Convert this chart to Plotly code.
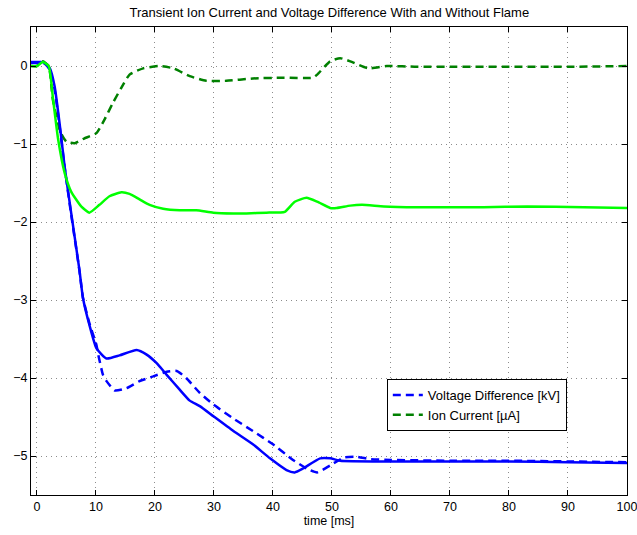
import plotly.graph_objects as go

# Voltage difference without flame (dashed blue)
v_nf_x = [-1, 0, 1, 1.5, 2.2, 3.0, 3.9, 4.7, 5.8, 7.2, 7.8, 8.9, 10.1, 10.4, 11.2, 11.8, 13.2, 15.2, 17.4, 19.7, 22.0, 23.7, 25.3, 27.6, 29.9, 33.3, 36.6, 40.0, 43.4, 45.7, 47.5, 49.7, 52.0, 54.2, 56.5, 60, 70, 80, 90, 100]
v_nf_y = [0.04, 0.04, 0.04, 0.02, -0.05, -0.30, -0.80, -1.30, -1.90, -2.62, -2.97, -3.30, -3.58, -3.70, -3.96, -4.04, -4.16, -4.13, -4.04, -3.98, -3.92, -3.91, -4.00, -4.19, -4.34, -4.52, -4.68, -4.85, -5.05, -5.16, -5.21, -5.12, -5.02, -5.01, -5.04, -5.05, -5.06, -5.06, -5.07, -5.08]

# Ion current without flame (dashed dark green)
i_nf_x = [-1, 0, 1.0, 2.0, 2.7, 4.0, 5.0, 6.4, 8.0, 10.1, 11.5, 12.9, 14.3, 15.7, 18.0, 20.8, 23.1, 25.9, 28.7, 32.1, 36.6, 41.7, 46.8, 47.5, 49.7, 51.4, 53.1, 56.2, 59.3, 64.4, 70, 80, 90, 100]
i_nf_y = [0.0, 0.0, 0.06, 0.0, -0.43, -0.85, -0.97, -0.99, -0.93, -0.86, -0.68, -0.47, -0.28, -0.11, -0.03, 0.0, -0.03, -0.13, -0.19, -0.19, -0.16, -0.15, -0.15, -0.11, 0.06, 0.10, 0.06, -0.03, 0.0, -0.01, -0.01, -0.01, -0.01, 0.0]

# Voltage difference with flame (solid blue)
v_f_x = [-1, 0, 1, 1.5, 2.2, 3.0, 3.9, 4.7, 5.8, 7.2, 7.8, 8.9, 10.1, 11.8, 14.0, 16.9, 18.6, 20.3, 22.0, 24.2, 25.9, 27.6, 29.9, 33.3, 36.6, 39.5, 42.3, 43.7, 45.1, 48.0, 49.7, 51.4, 59.3, 70, 80, 90, 100]
v_f_y = [0.05, 0.05, 0.05, 0.03, -0.03, -0.26, -0.77, -1.29, -1.88, -2.61, -2.97, -3.32, -3.62, -3.75, -3.71, -3.64, -3.70, -3.81, -3.96, -4.15, -4.29, -4.36, -4.49, -4.68, -4.85, -5.03, -5.18, -5.21, -5.16, -5.03, -5.03, -5.06, -5.07, -5.07, -5.07, -5.08, -5.09]

# Ion current with flame (solid bright green)
i_f_x = [-1, 0, 1.0, 2.0, 2.7, 3.6, 4.7, 5.8, 7.5, 8.9, 10.6, 12.3, 14.3, 15.7, 17.4, 19.1, 21.4, 24.2, 27.0, 29.9, 33.3, 35.5, 38.9, 42.0, 43.7, 45.7, 47.5, 49.7, 50.8, 53.1, 55.1, 58.8, 64.4, 75.7, 83.1, 92.7, 100]
i_f_y = [0.0, 0.0, 0.05, 0.0, -0.40, -0.94, -1.37, -1.61, -1.80, -1.88, -1.78, -1.67, -1.62, -1.64, -1.71, -1.78, -1.83, -1.85, -1.85, -1.88, -1.89, -1.89, -1.88, -1.87, -1.74, -1.69, -1.74, -1.82, -1.82, -1.79, -1.78, -1.80, -1.81, -1.81, -1.80, -1.81, -1.82]

title = "Transient Ion Current and Voltage Difference With and Without Flame"
x_label = "time [ms]"
x_ticks = [0, 10, 20, 30, 40, 50, 60, 70, 80, 90, 100]
y_ticks = [0, -1, -2, -3, -4, -5]
y_ticklabels = ["0", "\u22121", "\u22122", "\u22123", "\u22124", "\u22125"]

BLUE = "#0000FF"
DGREEN = "#008000"
LGREEN = "#00FF00"
DASH = "8px,5px"
SMOOTH = dict(shape="spline", smoothing=0.5)

fig = go.Figure()
fig.add_trace(go.Scatter(x=v_nf_x, y=v_nf_y, mode="lines", name="Voltage Difference [kV]",
                         line=dict(color=BLUE, width=2.5, dash=DASH, **SMOOTH)))
fig.add_trace(go.Scatter(x=i_nf_x, y=i_nf_y, mode="lines", name="Ion Current [\u00b5A]",
                         line=dict(color=DGREEN, width=2.5, dash=DASH, **SMOOTH)))
fig.add_trace(go.Scatter(x=v_f_x, y=v_f_y, mode="lines", showlegend=False,
                         line=dict(color=BLUE, width=2.5, **SMOOTH)))
fig.add_trace(go.Scatter(x=i_f_x, y=i_f_y, mode="lines", showlegend=False,
                         line=dict(color=LGREEN, width=2.5, **SMOOTH)))

axis_common = dict(showline=True, linecolor="black", linewidth=1, mirror="ticks",
                   ticks="inside", ticklen=5, tickcolor="black",
                   showgrid=True, gridcolor="#8c8c8c", griddash="1px,4px", gridwidth=1,
                   zeroline=False, tickfont=dict(size=12.5, color="black"),
                   ticklabeloverflow="allow", automargin=False)

fig.update_xaxes(range=[-1, 100], tickvals=x_ticks, **axis_common,
                 title=dict(text=x_label, font=dict(size=12.5, color="black"), standoff=3))
fig.update_yaxes(range=[-5.5, 0.5], tickvals=y_ticks, ticktext=y_ticklabels, **axis_common)

fig.update_layout(
    width=637, height=535,
    margin=dict(l=31, r=10, t=27, b=40),
    paper_bgcolor="white", plot_bgcolor="white",
    font=dict(family="Liberation Sans, Arial, sans-serif", size=12.5, color="black"),
    title=dict(text=title, x=0.517, xanchor="center", y=0.976, yanchor="middle",
               font=dict(size=13, color="black")),
    legend=dict(x=0.597, y=0.248, xanchor="left", yanchor="top",
                bordercolor="black", borderwidth=1, bgcolor="white",
                font=dict(size=13, color="black"), tracegroupgap=0),
)

fig.write_html("out.html", config={"displayModeBar": False},
               post_script="document.body.style.margin='0';")
